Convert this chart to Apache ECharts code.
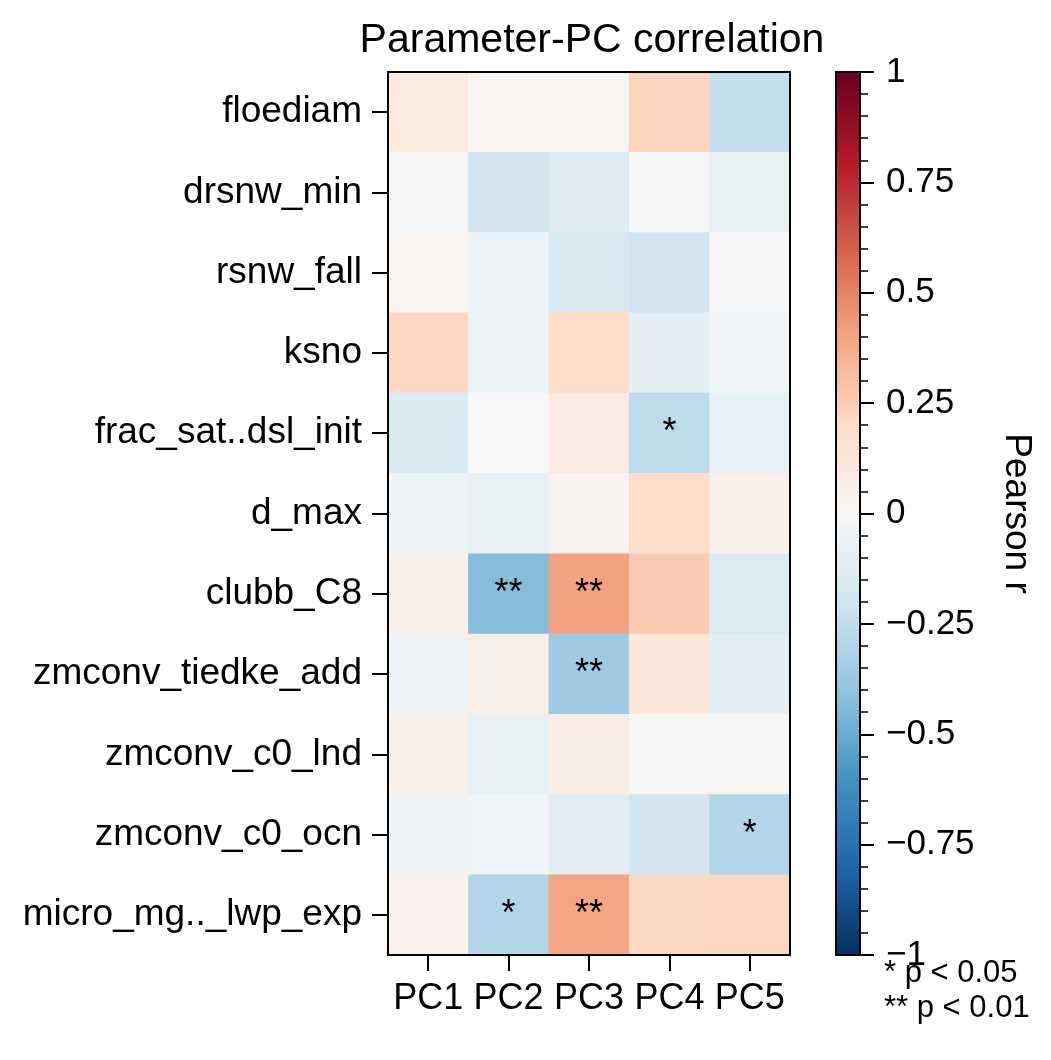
<!DOCTYPE html>
<html>
<head>
<meta charset="utf-8">
<script src="https://cdn.jsdelivr.net/npm/echarts@6/dist/echarts.min.js"></script>
<style>
html, body { margin: 0; padding: 0; background: #fff; }
#chart { width: 1051px; height: 1060px; }
</style>
</head>
<body>
<div id="chart"></div>
<script>
var params = ['floediam', 'drsnw_min', 'rsnw_fall', 'ksno', 'frac_sat..dsl_init', 'd_max',
	'clubb_C8', 'zmconv_tiedke_add', 'zmconv_c0_lnd', 'zmconv_c0_ocn', 'micro_mg.._lwp_exp'];
var pcs = ['PC1', 'PC2', 'PC3', 'PC4', 'PC5'];

// pearson r, one row per parameter (PC1..PC5)
var corr = [
	[0.10, 0.02, 0.02, 0.23, -0.24],
	[-0.02, -0.19, -0.13, -0.02, -0.08],
	[0.02, -0.06, -0.17, -0.20, -0.01],
	[0.22, -0.05, 0.19, -0.10, -0.03],
	[-0.15, 0.00, 0.09, -0.27, -0.09],
	[-0.04, -0.08, 0.03, 0.18, 0.05],
	[0.05, -0.43, 0.41, 0.26, -0.14],
	[-0.06, 0.06, -0.36, 0.12, -0.10],
	[0.05, -0.08, 0.07, 0.01, 0.01],
	[-0.04, -0.03, -0.11, -0.19, -0.30],
	[0.04, -0.30, 0.40, 0.21, 0.22]
];

// significance marks
var sig = [
	['', '', '', '', ''],
	['', '', '', '', ''],
	['', '', '', '', ''],
	['', '', '', '', ''],
	['', '', '', '*', ''],
	['', '', '', '', ''],
	['', '**', '**', '', ''],
	['', '', '**', '', ''],
	['', '', '', '', ''],
	['', '', '', '', '*'],
	['', '*', '**', '', '']
];

var cbTicks = [-1, -0.75, -0.5, -0.25, 0, 0.25, 0.5, 0.75, 1];

// RdBu_r
var rdbu = ['#053061', '#2166ac', '#4393c3', '#92c5de', '#d1e5f0', '#f7f7f7',
	'#fddbc7', '#f4a582', '#d6604d', '#b2182b', '#67001f'];

var font = 'Liberation Sans, Arial, Helvetica, sans-serif';
var plot = { left: 388, top: 72, width: 402, height: 883 };
var cb = { left: 836, top: 72, width: 24, height: 883 };

var data = [];
for (var i = 0; i < params.length; i++) {
	for (var j = 0; j < pcs.length; j++) {
		data.push({ value: [j, i, corr[i][j]], mark: sig[i][j] });
	}
}

var myChart = echarts.init(document.getElementById('chart'), null, { renderer: 'canvas' });

myChart.setOption({
	backgroundColor: '#fff',
	animation: false,
	textStyle: { fontFamily: font, color: '#000' },
	title: {
		text: 'Parameter-PC correlation',
		left: plot.left + plot.width / 2 - 2,
		top: 15,
		textAlign: 'center',
		textStyle: { fontFamily: font, fontSize: 41, fontWeight: 'normal', color: '#000' }
	},
	grid: [
		{ left: plot.left, top: plot.top, width: plot.width, height: plot.height },
		{ left: cb.left, top: cb.top, width: cb.width, height: cb.height }
	],
	xAxis: [{
		type: 'category',
		data: pcs,
		gridIndex: 0,
		axisLine: { show: true, lineStyle: { color: '#000', width: 2 } },
		axisTick: { show: true, alignWithLabel: true, length: 16, lineStyle: { color: '#000', width: 2 } },
		axisLabel: { interval: 0, fontSize: 36, color: '#000', margin: 26, fontFamily: font },
		splitLine: { show: false }
	}, {
		type: 'category',
		data: ['cb'],
		gridIndex: 1,
		show: false
	}],
	yAxis: [{
		type: 'category',
		data: params,
		inverse: true,
		gridIndex: 0,
		axisLine: { show: true, lineStyle: { color: '#000', width: 2 } },
		axisTick: { show: true, alignWithLabel: true, length: 16, lineStyle: { color: '#000', width: 2 } },
		axisLabel: { interval: 0, fontSize: 37, color: '#000', margin: 26, fontFamily: font },
		splitLine: { show: false }
	}, {
		type: 'value',
		gridIndex: 1,
		min: -1,
		max: 1,
		interval: 0.25,
		position: 'right',
		z: 10,
		name: 'Pearson r',
		nameLocation: 'middle',
		nameRotate: -90,
		nameGap: 138,
		nameTextStyle: { fontSize: 37, color: '#000', fontFamily: font },
		axisLine: { show: true, onZero: false, lineStyle: { color: '#000', width: 2 } },
		axisTick: { show: true, inside: false, length: 14, lineStyle: { color: '#000', width: 2 } },
		minorTick: { show: true, splitNumber: 5, length: 8, lineStyle: { color: '#000', width: 1.5 } },
		splitLine: { show: false },
		minorSplitLine: { show: false },
		axisLabel: {
			fontSize: 35,
			color: '#000',
			margin: 26,
			fontFamily: font,
			formatter: function (v) {
				if (cbTicks.indexOf(v) < 0) return '';
				return v < 0 ? '\u2212' + String(-v) : String(v);
			}
		}
	}],
	visualMap: {
		type: 'continuous',
		min: -1,
		max: 1,
		seriesIndex: 0,
		orient: 'vertical',
		left: cb.left,
		top: cb.top,
		itemWidth: cb.width,
		itemHeight: cb.height,
		padding: 0,
		z: 2,
		text: null,
		calculable: false,
		hoverLink: false,
		inRange: { color: rdbu }
	},
	graphic: [{
		type: 'rect',
		z: 100,
		shape: { x: plot.left, y: plot.top, width: plot.width, height: plot.height },
		style: { fill: 'none', stroke: '#000', lineWidth: 2 }
	}, {
		type: 'rect',
		z: 100,
		shape: { x: cb.left, y: cb.top, width: cb.width, height: cb.height },
		style: { fill: 'none', stroke: '#000', lineWidth: 2 }
	}, {
		type: 'text',
		z: 100,
		left: 884,
		top: 956,
		style: {
			text: '* p < 0.05\n** p < 0.01',
			font: '31px ' + font,
			lineHeight: 35,
			fill: '#000'
		}
	}],
	series: [{
		type: 'heatmap',
		xAxisIndex: 0,
		yAxisIndex: 0,
		data: data,
		label: {
			show: true,
			fontSize: 36,
			color: '#000',
			fontFamily: font,
			formatter: function (p) { return p.data.mark; }
		},
		emphasis: { disabled: true }
	}]
});
</script>
</body>
</html>
